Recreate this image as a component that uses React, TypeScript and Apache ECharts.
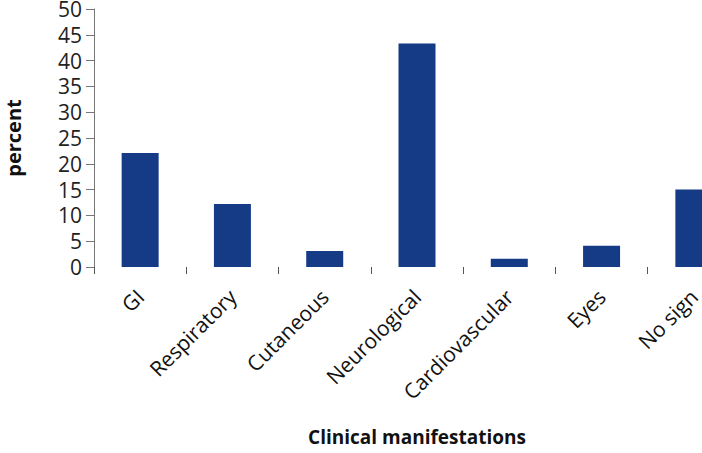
import React, { useEffect, useRef } from "react";
import * as echarts from "echarts";

const categories = ["GI", "Respiratory", "Cutaneous", "Neurological", "Cardiovascular", "Eyes", "No sign"];
const percentValues = [22.1, 12.2, 3.1, 43.3, 1.6, 4.1, 15.0];
const yTicks = { min: 0, max: 50, interval: 5 };

export default function App() {
  const ref = useRef<HTMLDivElement>(null);
  useEffect(() => {
    const chart = echarts.init(ref.current!, null, { renderer: "svg" });
    const font = "'Open Sans', sans-serif";
    chart.setOption({
      animation: false,
      backgroundColor: "#ffffff",
      grid: { left: 94, right: -38, top: 9, bottom: 186, containLabel: false, outerBoundsMode: "none" },
      xAxis: {
        type: "category",
        data: categories,
        axisLine: { show: false },
        axisTick: { show: true, length: 7, lineStyle: { color: "#555" }, interval: 0 },
        axisLabel: {
          rotate: 45,
          interval: 0,
          margin: 26,
          fontFamily: font,
          fontSize: 21,
          color: "#111",
        },
        name: "Clinical manifestations",
        nameLocation: "middle",
        nameGap: 160,
        nameTextStyle: { fontFamily: font, fontSize: 19, fontWeight: "bold", color: "#111" },
      },
      yAxis: {
        type: "value",
        min: yTicks.min,
        max: yTicks.max,
        interval: yTicks.interval,
        splitLine: { show: false },
        axisLine: { show: true, lineStyle: { color: "#777", width: 1 } },
        axisTick: { show: true, length: 8, lineStyle: { color: "#777" } },
        axisLabel: { margin: 12, fontFamily: font, fontSize: 21, lineHeight: 24, color: "#222" },
        name: "percent",
        nameLocation: "middle",
        nameGap: 71,
        nameTextStyle: { fontFamily: font, fontSize: 20, fontWeight: "bold", color: "#111" },
      },
      series: [
        {
          type: "bar",
          data: percentValues,
          barWidth: 37,
          itemStyle: { color: "#153B86" },
        },
      ],
    });
    return () => chart.dispose();
  }, []);
  return (
    <div
      ref={ref}
      style={{ position: "absolute", left: 0, top: 0, width: 702, height: 453, overflow: "hidden" }}
    />
  );
}
